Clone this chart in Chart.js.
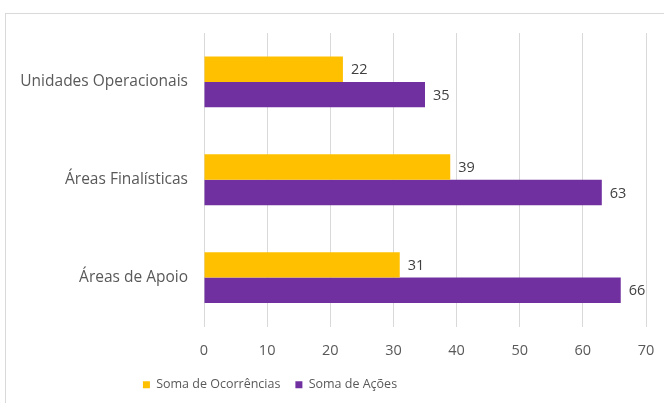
<!DOCTYPE html>
<html>
<head>
<meta charset="utf-8">
<script src="https://cdn.jsdelivr.net/npm/chart.js@4"></script>
<style>
  html, body { margin: 0; padding: 0; background: #fff; overflow: hidden; }
  #frame { position: absolute; left: 5px; top: 13px; width: 700px; height: 420px; border: 1px solid #d9d9d9; }
  #wrap { position: absolute; left: 0; top: 0; width: 664px; height: 403px; }
</style>
</head>
<body>
<div id="frame"></div>
<div id="wrap"><canvas id="chart" width="664" height="403"></canvas></div>
<script>
const categories = ['Unidades Operacionais', 'Áreas Finalísticas', 'Áreas de Apoio'];
const ocorrencias = [22, 39, 31];
const acoes = [35, 63, 66];
const xTicks = [0, 10, 20, 30, 40, 50, 60, 70];

const FONT = "'Open Sans', 'Noto Sans', sans-serif";

// value labels at the end of each bar
const valueLabels = {
  id: 'valueLabels',
  afterDatasetsDraw(chart) {
    const ctx = chart.ctx;
    ctx.save();
    ctx.font = '14.5px ' + FONT;
    ctx.fillStyle = '#404040';
    ctx.textBaseline = 'middle';
    ctx.textAlign = 'left';
    chart.data.datasets.forEach((ds, i) => {
      chart.getDatasetMeta(i).data.forEach((bar, j) => {
        ctx.fillText(ds.data[j], bar.x + 8, bar.y + 1);
      });
    });
    ctx.restore();
  }
};

// legend sits left of centre in the original
const legendShift = {
  id: 'legendShift',
  afterLayout(chart) {
    chart.legend.left -= 53;
    chart.legend.right -= 53;
  }
};

const ctx = document.getElementById('chart').getContext('2d');
const chart = new Chart(ctx, {
  type: 'bar',
  data: {
    labels: categories,
    datasets: [
      { label: 'Soma de Ocorrências', data: ocorrencias, backgroundColor: '#FFC000' },
      { label: 'Soma de Ações', data: acoes, backgroundColor: '#7030A0' }
    ]
  },
  options: {
    indexAxis: 'y',
    responsive: false,
    animation: false,
    categoryPercentage: 0.52,
    barPercentage: 1,
    layout: { padding: { left: 0, right: 18, top: 33, bottom: 2 } },
    plugins: {
      legend: {
        position: 'bottom',
        labels: {
          boxWidth: 7,
          boxHeight: 7,
          padding: 15,
          color: '#595959',
          font: { family: FONT, size: 12.5 }
        }
      },
      tooltip: { enabled: false }
    },
    scales: {
      x: {
        min: 0,
        max: 70,
        afterBuildTicks(scale) { scale.ticks = xTicks.map(v => ({ value: v })); },
        afterFit(scale) {
          scale.height = 37;
          scale.paddingLeft = 0;
          scale.paddingRight = 0;
        },
        grid: { color: '#d9d9d9', drawTicks: false },
        border: { display: false },
        ticks: { padding: 16, color: '#595959', font: { family: FONT, size: 14.5 } }
      },
      y: {
        afterFit(scale) {
          scale.width = 204;
          scale.paddingTop = 0;
          scale.paddingBottom = 0;
        },
        grid: { display: false, drawTicks: false },
        border: { display: false },
        ticks: { padding: 16, color: '#595959', font: { family: FONT, size: 15.5 } }
      }
    }
  },
  plugins: [valueLabels, legendShift]
});
</script>
</body>
</html>
